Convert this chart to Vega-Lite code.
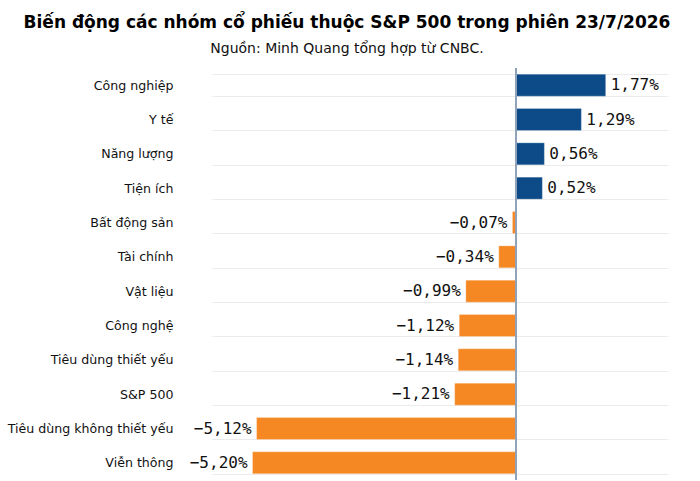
{
  "$schema": "https://vega.github.io/schema/vega-lite/v6.json",
  "width": 456,
  "height": 412,
  "autosize": {"type": "none"},
  "padding": {"left": 212, "top": 68, "right": 32, "bottom": 1},
  "background": "white",
  "title": {
    "text": "Biến động các nhóm cổ phiếu thuộc S&P 500 trong phiên 23/7/2026",
    "subtitle": "Nguồn: Minh Quang tổng hợp từ CNBC.",
    "anchor": "middle",
    "frame": "group",
    "dx": -93,
    "offset": 5,
    "font": "DejaVu Sans",
    "fontSize": 17,
    "fontWeight": "bold",
    "color": "#000000",
    "subtitleFont": "DejaVu Sans",
    "subtitleFontSize": 14,
    "subtitleColor": "#111111",
    "subtitlePadding": 10
  },
  "data": {
    "values": [
      {"nhom": "Công nghiệp", "value": 1.77, "label": "1,77%"},
      {"nhom": "Y tế", "value": 1.29, "label": "1,29%"},
      {"nhom": "Năng lượng", "value": 0.56, "label": "0,56%"},
      {"nhom": "Tiện ích", "value": 0.52, "label": "0,52%"},
      {"nhom": "Bất động sản", "value": -0.07, "label": "−0,07%"},
      {"nhom": "Tài chính", "value": -0.34, "label": "−0,34%"},
      {"nhom": "Vật liệu", "value": -0.99, "label": "−0,99%"},
      {"nhom": "Công nghệ", "value": -1.12, "label": "−1,12%"},
      {"nhom": "Tiêu dùng thiết yếu", "value": -1.14, "label": "−1,14%"},
      {"nhom": "S&P 500", "value": -1.21, "label": "−1,21%"},
      {"nhom": "Tiêu dùng không thiết yếu", "value": -5.12, "label": "−5,12%"},
      {"nhom": "Viễn thông", "value": -5.20, "label": "−5,20%"}
    ]
  },
  "encoding": {
    "y": {
      "field": "nhom",
      "type": "nominal",
      "sort": null,
      "title": null,
      "scale": {"paddingInner": 0.36, "paddingOuter": 0.18},
      "axis": {
        "grid": true,
        "tickBand": "extent",
        "gridColor": "#ebebeb",
        "gridWidth": 1,
        "ticks": false,
        "domain": false,
        "labelPadding": 39,
        "labelFont": "DejaVu Sans",
        "labelFontSize": 12.6,
        "labelColor": "#111111"
      }
    }
  },
  "layer": [
    {
      "mark": {"type": "bar", "stroke": "#ffffff", "strokeOpacity": 0.5, "strokeWidth": 0.5},
      "encoding": {
        "x": {
          "field": "value",
          "type": "quantitative",
          "scale": {"domain": [-6, 3], "nice": false, "zero": false},
          "axis": null
        },
        "color": {
          "condition": {"test": "datum.value >= 0", "value": "#0c4b88"},
          "value": "#f58823"
        }
      }
    },
    {
      "mark": {"type": "rule", "color": "#8fa2b9", "strokeWidth": 1},
      "encoding": {"x": {"datum": 0, "type": "quantitative"}, "y": null}
    },
    {
      "transform": [{"filter": "datum.value >= 0"}],
      "mark": {"type": "text", "align": "left", "dx": 5, "font": "DejaVu Sans Mono", "fontSize": 16, "color": "#111111"},
      "encoding": {
        "x": {"field": "value", "type": "quantitative"},
        "text": {"field": "label"}
      }
    },
    {
      "transform": [{"filter": "datum.value < 0"}],
      "mark": {"type": "text", "align": "right", "dx": -5, "font": "DejaVu Sans Mono", "fontSize": 16, "color": "#111111"},
      "encoding": {
        "x": {"field": "value", "type": "quantitative"},
        "text": {"field": "label"}
      }
    }
  ],
  "config": {"view": {"stroke": null}}
}
